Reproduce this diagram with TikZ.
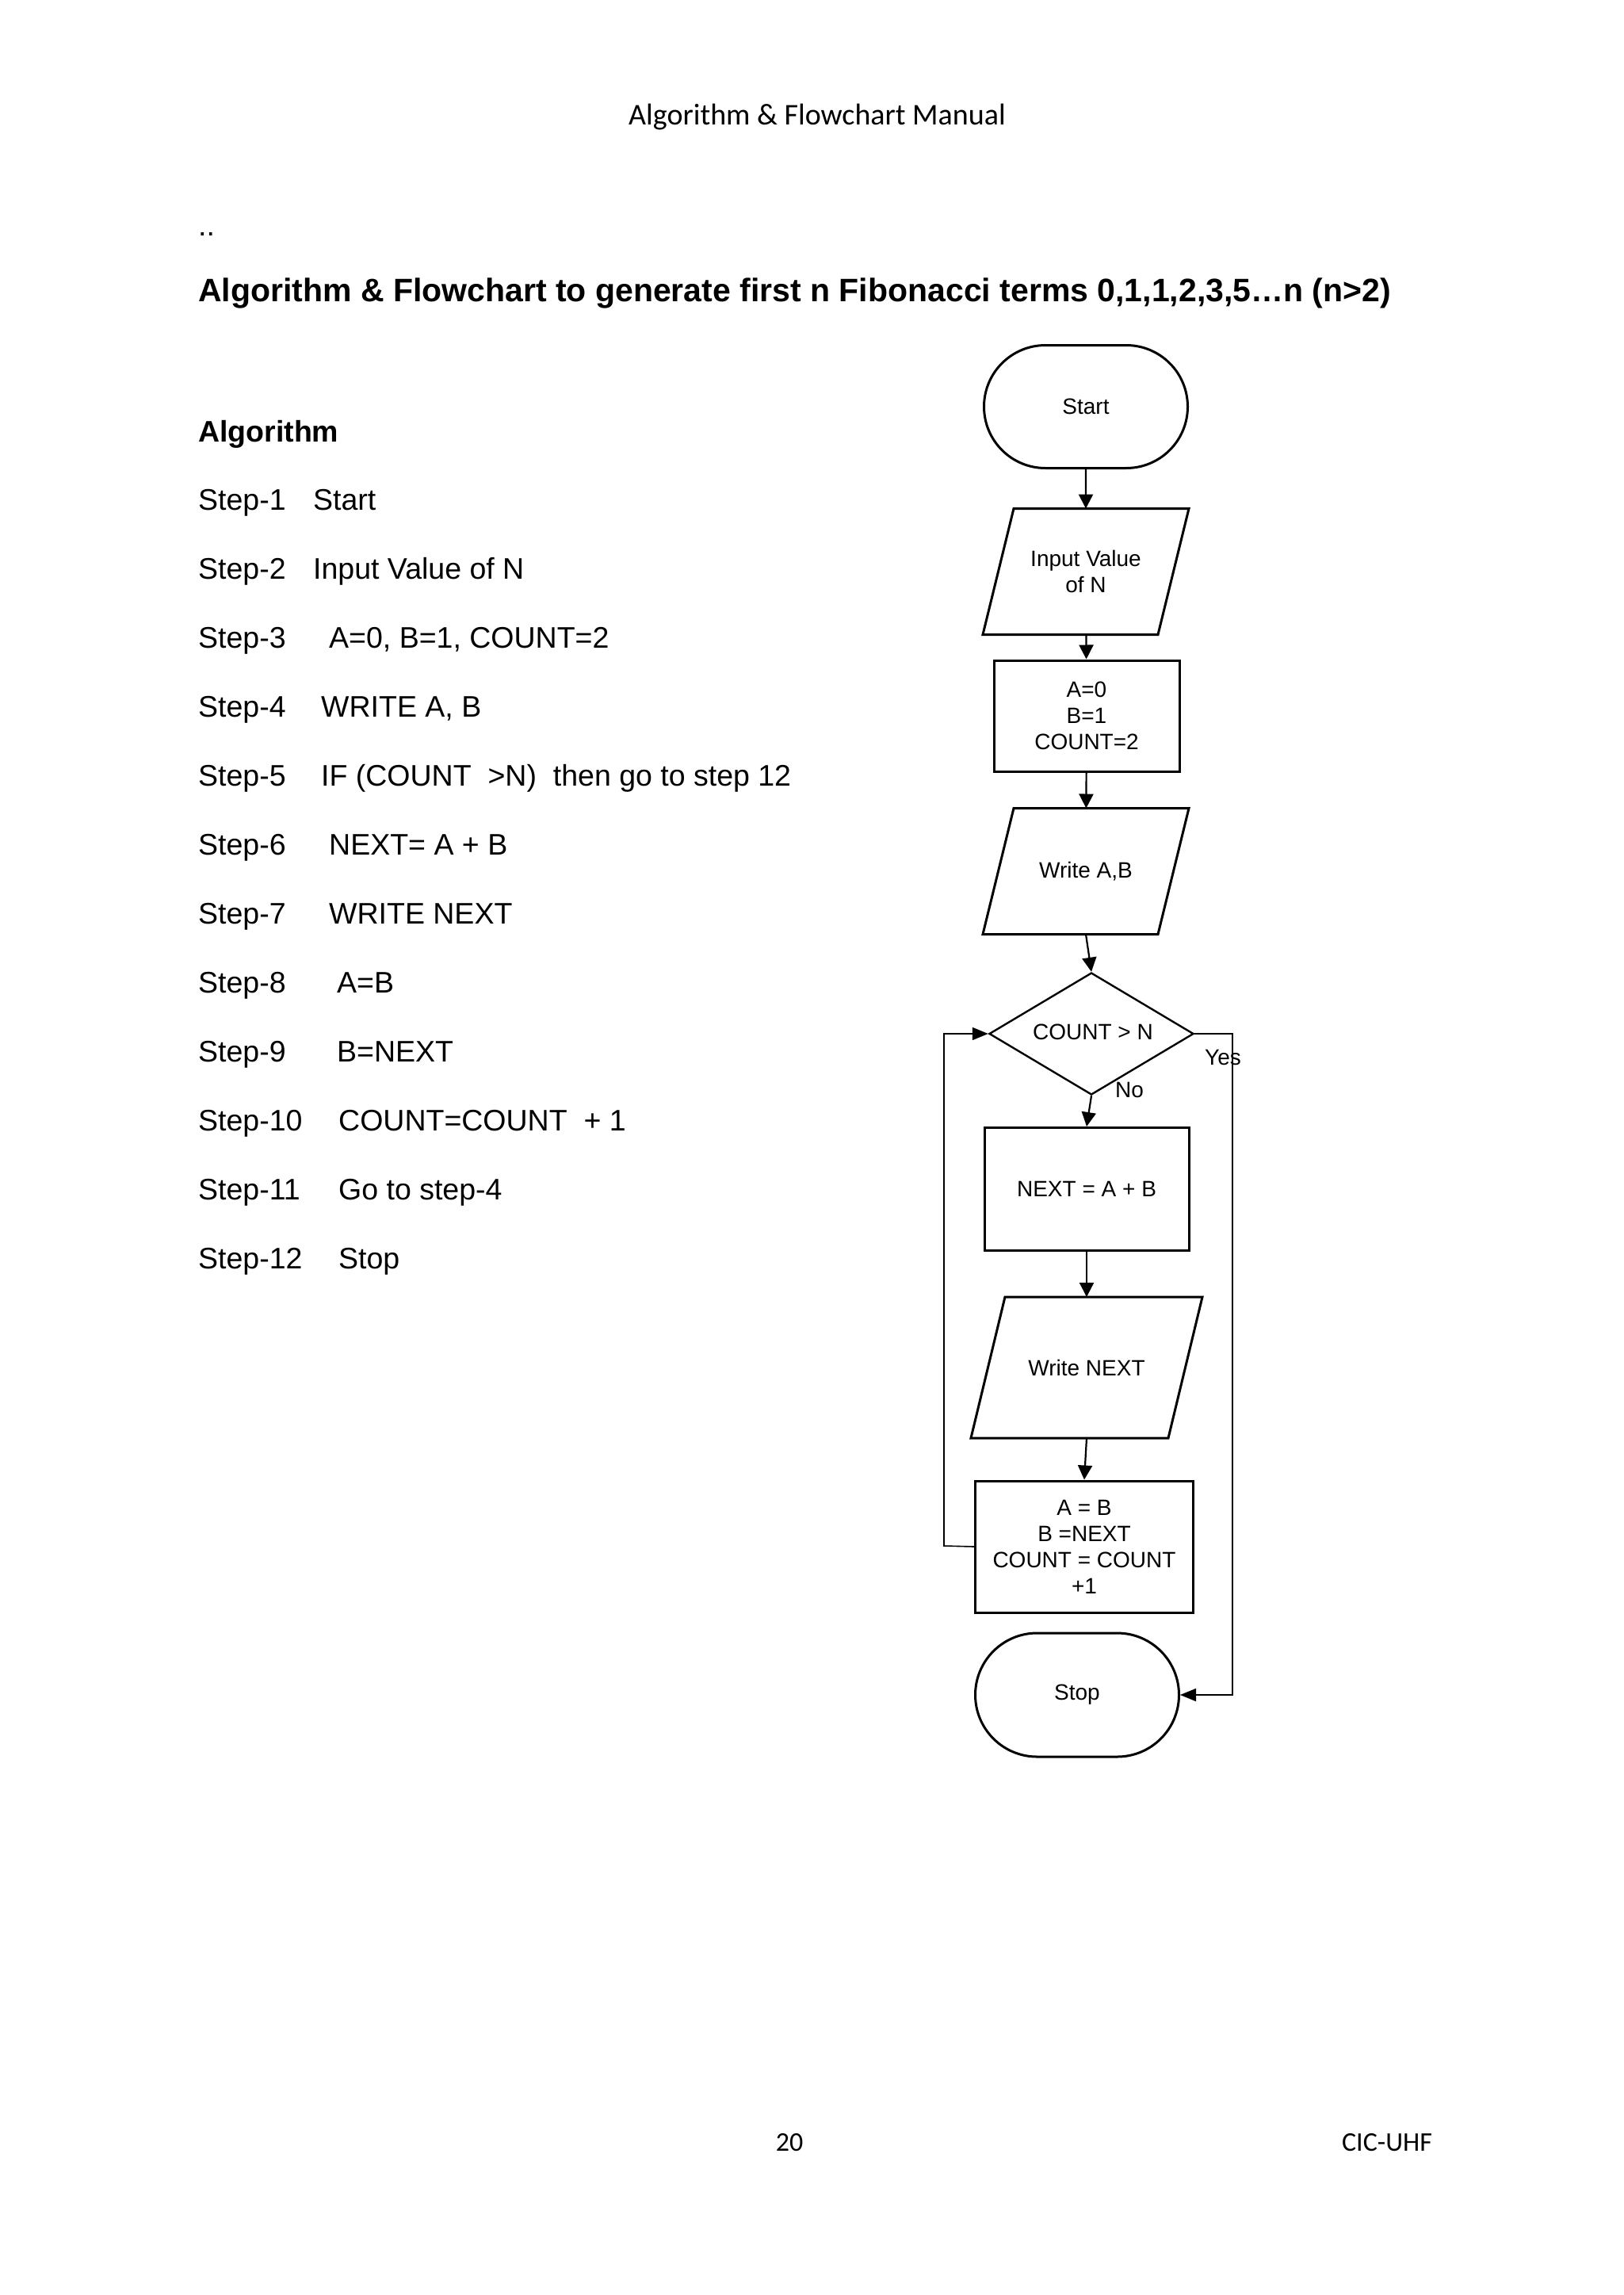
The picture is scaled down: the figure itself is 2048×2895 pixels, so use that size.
\documentclass[tikz,border=0pt]{standalone}
\usepackage{fontspec}
\setmainfont{Liberation Sans}
\newfontfamily\calib{Carlito}
\usetikzlibrary{shapes.geometric,shapes.misc,arrows.meta}
\begin{document}
\begin{tikzpicture}[x=1pt,y=-1pt,
  box/.style={draw,line width=3pt,align=center,font=\fontsize{28}{33}\selectfont,inner sep=0pt},
  term/.style={box,rounded rectangle},
  io/.style={box,draw=none},
  par/.style={line width=3pt,line join=miter},
  arr/.style={line width=2.2pt,-{Triangle[length=18pt,width=18pt]}},
  loop/.style={line width=1.6pt,-{Triangle[length=20pt,width=16pt]}},
  txt/.style={anchor=base west,inner sep=0pt,font=\fontsize{37.5}{40}\selectfont},
]
\useasboundingbox (0,0) rectangle (2048,2895);
\fill[white] (0,0) rectangle (2048,2895);
\node[anchor=base,inner sep=0pt,font=\calib\fontsize{38}{40}\selectfont] (hdr) at (1031,158) {Algorithm \& Flowchart Manual};
\node[txt] (dots) at (250,297) {..};
\node[txt,font=\bfseries\fontsize{41}{44}\selectfont] (title) at (250,380) {Algorithm \& Flowchart to generate first n Fibonacci terms 0,1,1,2,3,5\ldots n (n>2)};
\node[txt,font=\bfseries\fontsize{37.5}{40}\selectfont] (alg) at (250,557) {Algorithm};
\foreach \i/\s/\x/\t in {1/Step-1/395/Start,2/Step-2/395/Input Value of N,3/Step-3/415/{A=0, B=1, COUNT=2},4/Step-4/405/{WRITE A, B},5/Step-5/405/{IF (COUNT \ >N) \ then go to step 12},6/Step-6/415/{NEXT= A + B},7/Step-7/415/WRITE NEXT,8/Step-8/425/A=B,9/Step-9/425/B=NEXT,10/Step-10/427/{COUNT=COUNT \ + 1},11/Step-11/427/Go to step-4,12/Step-12/427/Stop}{
  \node[txt] (s\i) at (250,{643+87*(\i-1)}) {\s};
  \node[txt] (t\i) at (\x,{643+87*(\i-1)}) {\t};
}
\begin{scope}[shift={(-5,-5)}]
\node[term,minimum width=257,minimum height=155] (start) at (1375,518) {Start};
\node[io,minimum width=218,minimum height=156] (inp) at (1375,726) {Input Value\\of N};
\node[box,minimum width=234,minimum height=140] (init) at (1376,908) {A=0\\B=1\\COUNT=2};
\node[io,minimum width=218,minimum height=156] (wab) at (1375,1104) {Write A,B};
\node[box,diamond,minimum width=258,minimum height=154,line width=2.4pt] (dec) at (1382,1309) {};
\node[font=\fontsize{28}{33}\selectfont] at (1384,1307) {COUNT > N};
\node[box,minimum width=258,minimum height=155] (nxt) at (1376,1505) {NEXT = A + B};
\node[io,minimum width=246,minimum height=175] (wn) at (1376,1730) {Write NEXT};
\node[box,minimum width=275,minimum height=166] (upd) at (1373,1956) {A = B\\B =NEXT\\COUNT = COUNT\\+1};
\node[term,minimum width=257,minimum height=156] (stop) at (1364,2143) {Stop};
\node[font=\fontsize{28}{33}\selectfont,anchor=west,inner sep=0pt] (yes) at (1525,1339) {Yes};
\node[font=\fontsize{28}{33}\selectfont,anchor=west,inner sep=0pt] (no) at (1412,1380) {No};
\coordinate (ll) at (1196,1955);
\coordinate (rr) at (1560,1309);
\end{scope}
\foreach \n/\o in {inp/19.5,wab/19.5,wn/21.5}{
  \draw[par] ([xshift=-\o pt]\n.south west) -- ([xshift=\o pt]\n.north west) -- ([xshift=\o pt]\n.north east) -- ([xshift=-\o pt]\n.south east) -- cycle;
}
\draw[arr] (start) -- (inp);
\draw[arr] (inp) -- (init);
\draw[arr] (init) -- (wab);
\draw[arr] (wab.south) -- (dec.north);
\draw[arr] (dec.south) -- (nxt.north);
\draw[arr] (nxt) -- (wn);
\draw[arr] (wn.south) -- (upd.north);
\draw[loop] (upd.west) -- (ll) |- (dec.west);
\draw[loop] (dec.east) -- (rr) |- (stop.east);
\node[anchor=base,inner sep=0pt,font=\calib\fontsize{34}{40}\selectfont] (pg) at (996,2713) {20};
\node[anchor=base,inner sep=0pt,font=\calib\fontsize{34}{40}\selectfont] (org) at (1750,2713) {CIC-UHF};
\end{tikzpicture}
\end{document}
